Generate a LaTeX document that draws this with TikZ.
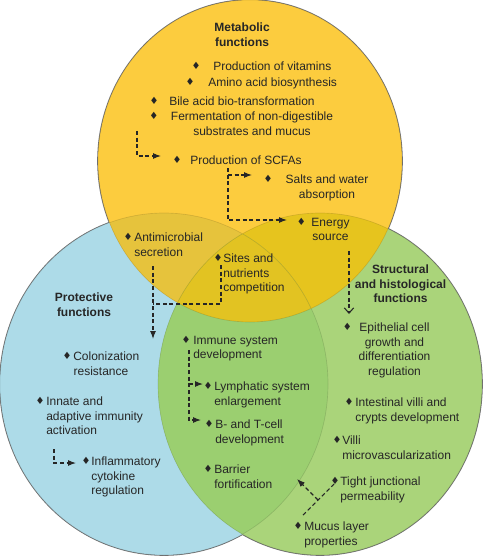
\documentclass[tikz,border=0pt]{standalone}
\usepackage{fontspec}
\setmainfont{Liberation Sans}
\newfontfamily\symfont{DejaVu Sans}
\usetikzlibrary{arrows.meta}

\definecolor{metayel}{HTML}{FCCC3E}
\definecolor{protblue}{HTML}{ADDBE8}
\definecolor{strugreen}{HTML}{AAD47A}
\definecolor{metprot}{HTML}{E6C33C}
\definecolor{metstru}{HTML}{E6C41E}
\definecolor{protstru}{HTML}{9BCF70}
\definecolor{allthree}{HTML}{E2C322}

\newcommand\dm[1][1.2pt]{\llap{\raisebox{0.7pt}{\symfont\fontsize{7.5}{7.5}\selectfont ♦}\kern#1}}
\newcommand\dmi{{\raisebox{0.7pt}{\symfont\fontsize{7.5}{7.5}\selectfont ♦}\kern1.2pt}}

\def\metacirc{(250,161) ellipse [x radius=152,y radius=161]}
\def\protcirc{(164,384) ellipse [x radius=164,y radius=171]}
\def\strucirc{(320,384) ellipse [x radius=162,y radius=171]}

\begin{document}
\begin{tikzpicture}[x=0.75pt,y=-0.75pt,>={Latex[length=6pt,width=4.5pt]},
  txt/.style={inner sep=0pt,anchor=north west,align=left,font=\fontsize{9}{11}\selectfont,text=black!85},
  ctr/.style={txt,anchor=north,align=center},
  ttl/.style={ctr,font=\fontsize{9}{11}\selectfont\bfseries},
  flow/.style={line width=0.8pt,dash pattern=on 3pt off 2pt,black!85},
  rim/.style={draw=black!55,line width=1.2pt}]
\useasboundingbox (0,0) rectangle (484,556);
%% circles
\draw[rim] \protcirc; \draw[rim] \strucirc; \draw[rim] \metacirc;
\fill[protblue] \protcirc;
\fill[strugreen] \strucirc;
\fill[metayel] \metacirc;
\begin{scope} \clip \metacirc; \fill[metprot] \protcirc; \end{scope}
\begin{scope} \clip \metacirc; \fill[metstru] \strucirc; \end{scope}
\begin{scope} \clip \protcirc; \fill[protstru] \strucirc; \end{scope}
\begin{scope} \clip \metacirc; \clip \protcirc; \fill[allthree] \strucirc; \end{scope}
\draw[black,opacity=.12,line width=.5pt] \protcirc \strucirc \metacirc;
%% metabolic
\node (mettitle) at (242,22.5) [ttl] {Metabolic\\functions};
\node (vitamins) at (213,61.5) [txt] {\dm[9.5pt]Production of vitamins};
\node (amino) at (208,77.5) [txt] {\dm[10.2pt]Amino acid biosynthesis};
\node (bile) at (169,96.5) [txt] {\dm[8pt]Bile acid bio-transformation};
\node (ferment) at (252,111.5) [ctr] {\dm[9.5pt]Fermentation of non-digestible\\substrates and mucus};
\node (scfa) at (190,155.5) [txt] {\dm[6.5pt]Production of SCFAs};
\node (salts) at (327,174.5) [ctr] {\dm[9.8pt]Salts and water\\absorption};
\node (energy) at (330.5,217.5) [ctr] {\dm[4.2pt]Energy\\source};
\node (antimicro) at (134,232.5) [txt] {\dm Antimicrobial\\secretion};
\node (sites) at (223,253.5) [txt] {\dm[0.5pt]Sites and\\nutrients\\competition};
%% structural
\node (structitle) at (400.5,264.5) [ttl] {Structural\\and histological\\functions};
\node (epith) at (394.5,322.5) [ctr] {\dm[5.8pt]Epithelial cell\\growth and\\differentiation\\regulation};
\node (villidev) at (355,397.5) [txt] {\dm Intestinal villi and\\crypts development};
\node (microvasc) at (342,435.5) [txt] {\dm[0.5pt]Villi\\microvascularization};
\node (tight) at (340,476.5) [txt] {\dm[0.5pt]Tight junctional\\permeability};
\node (mucus) at (304,521.5) [txt] {\dm Mucus layer\\properties};
%% protective
\node (prottitle) at (84,292.5) [ttl] {Protective\\functions};
\node (colon) at (101,351.5) [ctr] {\dmi Colonization\\resistance};
\node (innate) at (46,396.5) [txt] {\dm Innate and\\adaptive immunity\\activation};
\node (inflam) at (91,456.5) [txt] {\dm[0.5pt]Inflammatory\\cytokine\\regulation};
\node (immune) at (193,335.5) [txt] {\dm[2pt]Immune system\\development};
\node (lymph) at (214,381.5) [txt] {\dm Lymphatic system\\enlargement};
\node (bcell) at (215,419.5) [txt] {\dm B- and T-cell\\development};
\node (barrier) at (214,464.5) [txt] {\dm Barrier\\fortification};
%% links
\coordinate (fermdrop) at (137,131);  \coordinate (scfain) at (161,156);
\coordinate (scfadrop) at (228,168);  \coordinate (energyin) at (287,220);
\coordinate (saltsfork) at (228,175); \coordinate (saltsin) at (252,175);
\coordinate (energydrop) at (349,251); \coordinate (epithin) at (349,314);
\coordinate (antidrop) at (153,266);  \coordinate (protin) at (153,339);
\coordinate (sitesdrop) at (221,265); \coordinate (antijoin) at (153,304);
\coordinate (immdrop) at (189,350);   \coordinate (bcellin) at (201,420);
\coordinate (immfork) at (189,384);   \coordinate (lymphin) at (203,384);
\coordinate (innatedrop) at (54,449); \coordinate (inflamin) at (76,463);
\coordinate (mucusup) at (303,515);   \coordinate (tightin) at (335,483);
\coordinate (mucusmid) at (318,500);  \coordinate (barrierin) at (297,479);
\draw[flow,->] (fermdrop) |- (scfain);
\draw[flow,->] (scfadrop) |- (energyin);
\draw[flow,->] (saltsfork) -- (saltsin);
\draw[flow,-{Straight Barb[length=4pt,width=7pt]}] (energydrop) -- (epithin);
\draw[flow,->] (antidrop) -- (protin);
\draw[flow] (sitesdrop) |- (antijoin);
\draw[flow,->] (immdrop) |- (bcellin);
\draw[flow,->] (immfork) -- (lymphin);
\draw[flow,->] (innatedrop) |- (inflamin);
\draw[flow] (mucusup) -- (tightin);
\draw[flow,->] (mucusmid) -- (barrierin);
%
\end{tikzpicture}
\end{document}
